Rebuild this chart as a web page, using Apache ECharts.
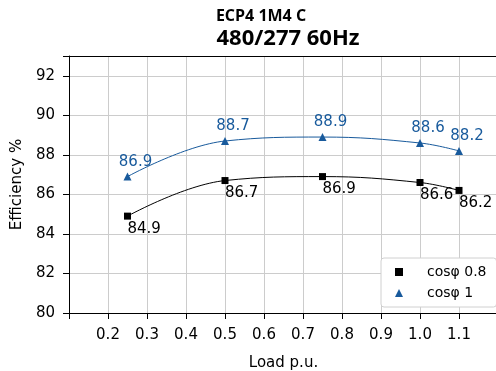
<!DOCTYPE html>
<html><head><meta charset="utf-8">
<script src="https://cdn.jsdelivr.net/npm/echarts@6/dist/echarts.min.js"></script>
<style>html,body{margin:0;padding:0;background:#fff}#c{width:496px;height:371px}</style>
</head><body><div id="c"></div>
<script>
var loads = [0.25, 0.5, 0.75, 1.0, 1.1];
var effPf08 = [84.9, 86.7, 86.9, 86.6, 86.2];
var effPf1 = [86.9, 88.7, 88.9, 88.6, 88.2];
var seriesNames = ['cos\u03c6 0.8', 'cos\u03c6 1'];
var titleMain = 'ECP4 1M4 C';
var titleSub = '480/277 60Hz';
var xName = 'Load p.u.';
var yName = 'Efficiency %';

var FONT = 'DejaVu Sans';
var BLUE = '#185a9c';
function pairs(xs, ys){ return xs.map(function(x,i){ return [x, ys[i]]; }); }

var chart = echarts.init(document.getElementById('c'), null, {renderer:'canvas'});
chart.setOption({
  animation:false,
  backgroundColor:'#fff',
  title:[
    {text:titleMain, left:256, top:3, textAlign:'center',
     textStyle:{fontFamily:'Open Sans', fontWeight:'bold', fontSize:16, color:'#000'}},
    {text:titleSub, left:283, top:23, textAlign:'center',
     textStyle:{fontFamily:'Open Sans', fontWeight:'bold', fontSize:22, color:'#000'}}
  ],
  grid:{left:69, top:56, width:429, height:257, outerBoundsMode:'none', containLabel:false},
  legend:{
    orient:'vertical', left:381, top:258, padding:[7,10,7,14], itemGap:7,
    backgroundColor:'#fff', borderColor:'#d0d0d0', borderWidth:1, borderRadius:3,
    itemWidth:8, itemHeight:8,
    textStyle:{fontFamily:FONT, fontSize:14, color:'#000', padding:[0,0,0,19]},
    data:[{name:seriesNames[0], icon:'rect'},{name:seriesNames[1], icon:'triangle'}]
  },
  xAxis:[{
    type:'value', min:0.1, max:1.2, interval:0.1,
    name:xName, nameLocation:'middle', nameGap:43,
    nameTextStyle:{fontFamily:FONT, fontSize:15, color:'#000'},
    axisLine:{lineStyle:{color:'#000', width:1}},
    axisTick:{show:true, length:6, lineStyle:{color:'#000'}},
    axisLabel:{fontFamily:FONT, fontSize:15, color:'#000', margin:15,
      formatter:function(v){ var r=Math.round(v*10)/10; return (r<0.15||r>1.15)?'':r.toFixed(1); }},
    splitLine:{show:true, lineStyle:{color:'#cccccc', width:1}}
  },{
    type:'value', position:'top', min:0.1, max:1.2,
    axisLine:{show:true, lineStyle:{color:'#000', width:1}},
    axisTick:{show:false}, axisLabel:{show:false}, splitLine:{show:false}
  }],
  yAxis:[{
    type:'value', min:80, max:93, interval:2,
    name:yName, nameLocation:'middle', nameGap:42,
    nameTextStyle:{fontFamily:FONT, fontSize:15, color:'#000'},
    axisLine:{show:true, lineStyle:{color:'#000', width:1}},
    axisTick:{show:true, length:6, lineStyle:{color:'#000'}},
    axisLabel:{fontFamily:FONT, fontSize:15, color:'#000', margin:14,
      formatter:function(v){ return (v%2===0)? String(v) : ''; }},
    splitLine:{show:true, lineStyle:{color:'#cccccc', width:1}}
  },{
    type:'value', position:'right', min:80, max:93,
    axisLine:{show:true, lineStyle:{color:'#000', width:1}},
    axisTick:{show:false}, axisLabel:{show:false}, splitLine:{show:false}
  }],
  series:[
    {name:seriesNames[0], type:'line', smooth:0.4, data:pairs(loads, effPf08),
     symbol:'rect', symbolSize:7,
     itemStyle:{color:'#000'}, lineStyle:{color:'#000', width:1},
     label:{show:true, position:'bottom', align:'left', distance:2,
       fontFamily:FONT, fontSize:15, color:'#000'}},
    {name:seriesNames[1], type:'line', smooth:0.4, data:pairs(loads, effPf1),
     symbol:'triangle', symbolSize:8,
     itemStyle:{color:BLUE}, lineStyle:{color:BLUE, width:1},
     label:{show:true, position:'top', distance:3, offset:[8,0],
       fontFamily:FONT, fontSize:15, color:BLUE}}
  ]
});
</script></body></html>
